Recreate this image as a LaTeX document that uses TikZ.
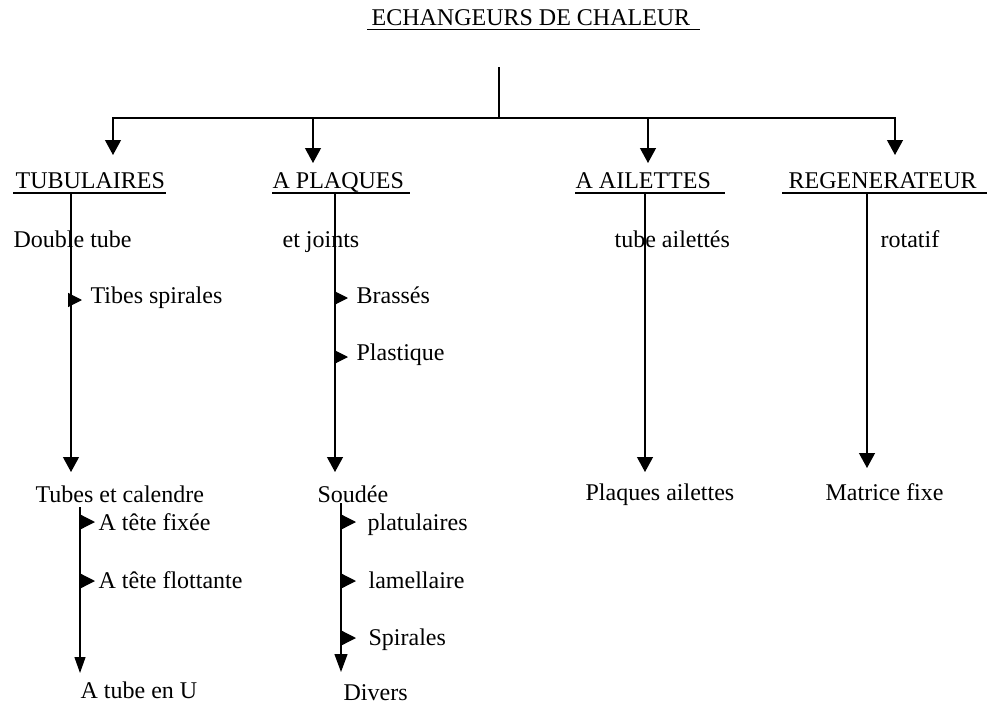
\documentclass[tikz,border=0pt]{standalone}
\usepackage{fontspec}
\setmainfont{Liberation Serif}
\usetikzlibrary{arrows.meta}
\begin{document}
\begin{tikzpicture}[x=1pt,y=-1pt,
  line width=1.2pt,
  lbl/.style={anchor=base west,inner sep=0pt,font=\fontsize{24}{28}\selectfont},
  big/.style={-{Triangle[length=15pt,width=16pt]}},
  sub/.style={-{Triangle[length=16pt,width=11pt]}},
  side/.style={-{Triangle[length=14pt,width=14pt]}}]
\useasboundingbox (0,0) rectangle (990,704);
% texts
\node[lbl] (title) at (371,25) {ECHANGEURS DE CHALEUR};
\node[lbl] (h1) at (15,188) {TUBULAIRES};
\node[lbl] (h2) at (272,188) {A PLAQUES};
\node[lbl] (h3) at (575,188) {A AILETTES};
\node[lbl] (h4) at (788,188) {REGENERATEUR};
\node[lbl] (a1) at (13,247) {Double tube};
\node[lbl] (a2) at (282,247) {et joints};
\node[lbl] (a3) at (614,247) {tube ailettés};
\node[lbl] (a4) at (880,247) {rotatif};
\node[lbl] (s1) at (90,303) {Tibes spirales};
\node[lbl] (s2) at (356,303) {Brassés};
\node[lbl] (s3) at (356,360) {Plastique};
\node[lbl] (b1) at (35,502) {Tubes et calendre};
\node[lbl] (b2) at (317,502) {Soudée};
\node[lbl] (b3) at (585,500) {Plaques ailettes};
\node[lbl] (b4) at (825,500) {Matrice fixe};
\node[lbl] (c1) at (98,530) {A tête fixée};
\node[lbl] (c2) at (98,588) {A tête flottante};
\node[lbl] (c3) at (367,530) {platulaires};
\node[lbl] (c4) at (368,588) {lamellaire};
\node[lbl] (c5) at (368,645) {Spirales};
\node[lbl] (d1) at (80,698) {A tube en U};
\node[lbl] (d2) at (343,700) {Divers};
% underlines
\draw (367,29.5) -- (700,29.5);
\draw (13,193) -- (166,193);
\draw (272,193) -- (410,193);
\draw (575,193) -- (725,193);
\draw (782,193) -- (987,193);
% coordinates
\coordinate (top) at (499,67);
\coordinate (j) at (499,118);
\coordinate (t1) at (113,155);
\coordinate (t2) at (313,163);
\coordinate (t3) at (648,163);
\coordinate (t4) at (895,155);
\coordinate (v1) at (71,193);  \coordinate (e1) at (71,472);
\coordinate (v2) at (335,193); \coordinate (e2) at (335,472);
\coordinate (v3) at (645,193); \coordinate (e3) at (645,472);
\coordinate (v4) at (867,193); \coordinate (e4) at (867,468);
\coordinate (w1) at (80,507);  \coordinate (f1) at (80,673);
\coordinate (w2) at (341,503); \coordinate (f2) at (341,672);
% main tree
\draw (top) -- (j);
\draw[big] (j) -| (t1);
\draw[big] (j) -| (t2);
\draw[big] (j) -| (t3);
\draw[big] (j) -| (t4);
\draw[big] (v1) -- (e1);
\draw[big] (v2) -- (e2);
\draw[big] (v3) -- (e3);
\draw[big] (v4) -- (e4);
\draw[sub] (w1) -- (f1);
\draw[sub,-{Triangle[length=18pt,width=13pt]}] (w2) -- (f2);
% side arrows
\draw[side] (71,300) -- (82,300);
\draw[side] (335,298) -- (348,298);
\draw[side] (335,357) -- (348,357);
\draw[side] (80,522) -- (95,522);
\draw[side] (80,581) -- (95,581);
\draw[side] (341,522) -- (356,522);
\draw[side] (341,581) -- (356,581);
\draw[side] (341,638) -- (356,638);
\end{tikzpicture}
\end{document}
